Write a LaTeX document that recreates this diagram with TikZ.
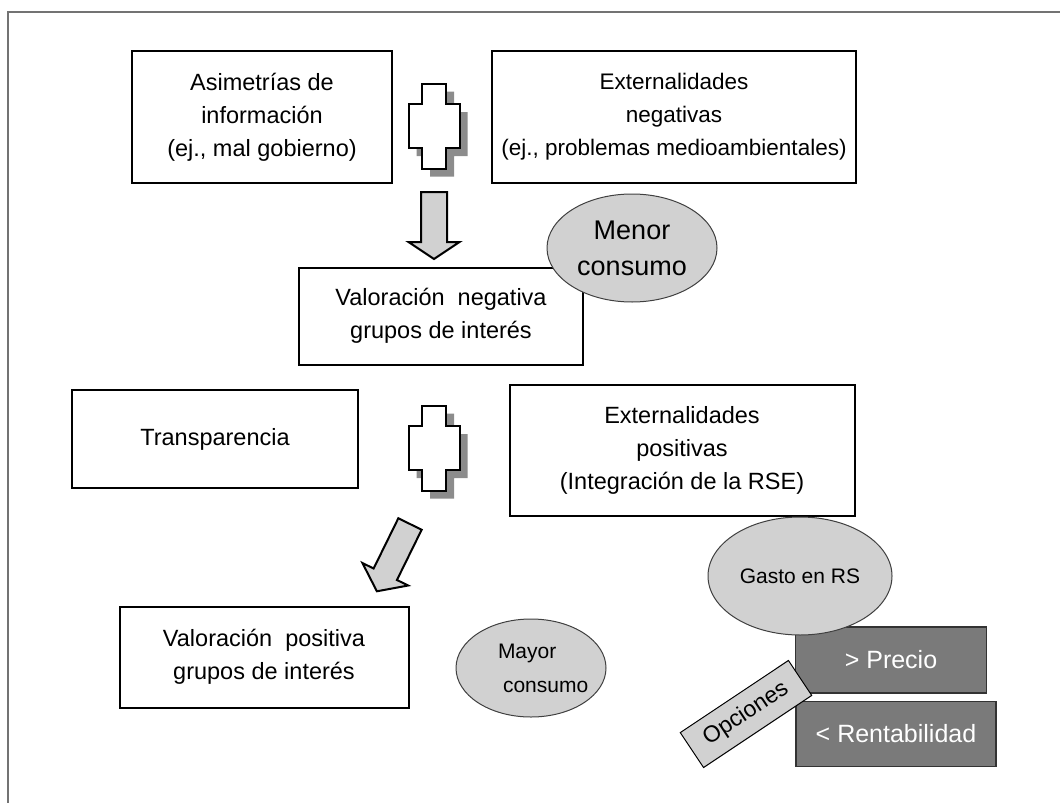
\documentclass[tikz,border=0pt]{standalone}
\usepackage{fontspec}
\setmainfont{Liberation Sans}
\usepackage{tikz}
\usetikzlibrary{shapes.geometric}

\definecolor{lightgr}{gray}{0.82}
\definecolor{shadowgr}{gray}{0.55}
\definecolor{darkgr}{gray}{0.48}
\definecolor{framegr}{gray}{0.45}

\tikzset{
  textbox/.style={draw=black, line width=2pt, fill=white, align=center, inner sep=0pt, font=\fontsize{23.5}{33}\selectfont},
  bubble/.style={ellipse, draw=black!75, line width=1pt, fill=lightgr, align=center, inner sep=0pt},
  darkbox/.style={draw=black!80, line width=1.2pt, fill=darkgr, text=white, inner sep=0pt, font=\fontsize{25}{30}\selectfont},
  optbox/.style={draw=black, line width=1pt, fill=lightgr, inner sep=0pt, minimum width=130pt, minimum height=42pt, font=\fontsize{23}{26}\selectfont},
  blockarrow/.style={draw=black, line width=2pt, fill=lightgr, line join=miter},
}

\begin{document}
\begin{tikzpicture}[x=1pt,y=-1pt]
\useasboundingbox (0,0) rectangle (1060,803);
% marco
\draw[framegr, line width=1.5pt] (8,803) -- (8,12) -- (1060,12);

% fila de arriba
\node[textbox, minimum width=260pt, minimum height=132pt] (asim) at (262,117) {Asimetrías de\\información\\(ej., mal gobierno)};
\node[textbox, minimum width=364pt, minimum height=132pt, font=\fontsize{22.5}{33}\selectfont] (extneg) at (674,117) {Externalidades\\negativas\\(ej., problemas medioambientales)};
\node[textbox, minimum width=284pt, minimum height=97pt] (valneg) at (441,316) {Valoración \ negativa\\grupos de interés};
\node[bubble, minimum width=170pt, minimum height=108pt, font=\fontsize{27}{36}\selectfont] (menor) at (632,248) {Menor\\consumo};

% fila de abajo
\node[textbox, minimum width=286pt, minimum height=98pt] (transp) at (215,439) {Transparencia};
\node[textbox, minimum width=345pt, minimum height=131pt] (extpos) at (682,450) {Externalidades\\positivas\\(Integración de la RSE)};
\node[textbox, minimum width=289pt, minimum height=101pt] (valpos) at (264,657) {Valoración \ positiva\\grupos de interés};
\node[bubble, minimum width=150pt, minimum height=98pt, text width=66pt, align=left, font=\fontsize{21}{34}\selectfont] (mayor) at (531,668) {\mbox{Mayor}\\\hspace*{5pt}\mbox{consumo}};

% gasto y opciones
\node[darkbox, minimum width=191pt, minimum height=66pt] (precio) at (891,660) {> Precio};
\node[darkbox, minimum width=200pt, minimum height=65pt] (rentab) at (896,734) {< Rentabilidad};
\node[bubble, minimum width=184pt, minimum height=118pt, font=\fontsize{21}{24}\selectfont] (gasto) at (800,576) {Gasto en RS};
\node[optbox, rotate=33.7] (opc) at (746,714) {Opciones};

% signos mas
\coordinate (masA) at (434,126);
\coordinate (masB) at (434,448);
\foreach \c in {masA, masB}{
  \fill[shadowgr, shift={(\c)}, xshift=8pt, yshift=-8pt] (-12,-42.5) -- (12,-42.5) -- (12,-22) -- (25.5,-22) -- (25.5,22) -- (12,22) -- (12,42.5) -- (-12,42.5) -- (-12,22) -- (-25.5,22) -- (-25.5,-22) -- (-12,-22) -- cycle;
  \draw[line width=2pt, fill=white, shift={(\c)}] (-12,-42.5) -- (12,-42.5) -- (12,-22) -- (25.5,-22) -- (25.5,22) -- (12,22) -- (12,42.5) -- (-12,42.5) -- (-12,22) -- (-25.5,22) -- (-25.5,-22) -- (-12,-22) -- cycle;
}

% flechas
\coordinate (flechaA) at (434,192);
\coordinate (flechaB) at (410,524);
\draw[blockarrow, shift={(flechaA)}] (-13,0) -- (13,0) -- (13,50) -- (25.5,50) -- (0,67) -- (-25.5,50) -- (-13,50) -- cycle;
\draw[blockarrow, shift={(flechaB)}, rotate=-26.2] (-13,0) -- (13,0) -- (13,56) -- (25.5,56) -- (0,75) -- (-25.5,56) -- (-13,56) -- cycle;
\end{tikzpicture}
\end{document}
